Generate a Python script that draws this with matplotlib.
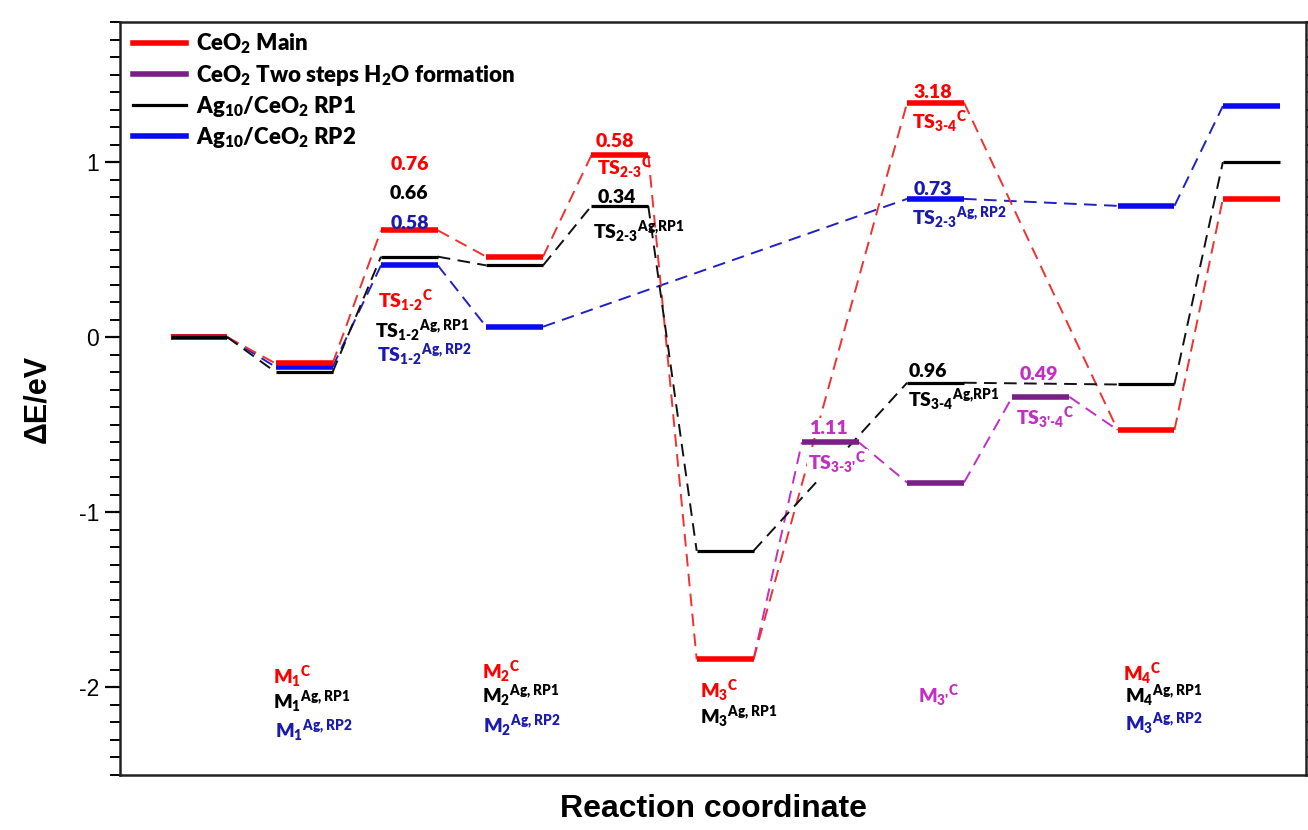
import matplotlib
matplotlib.use("Agg")
import matplotlib.pyplot as plt
from matplotlib.lines import Line2D
from matplotlib.ticker import MultipleLocator

FONT = "Lato"
plt.rcParams["axes.unicode_minus"] = False
plt.rcParams["mathtext.fontset"] = "custom"
plt.rcParams["mathtext.rm"] = FONT + ":heavy"
plt.rcParams["mathtext.it"] = FONT + ":heavy"
plt.rcParams["mathtext.bf"] = FONT + ":heavy"

# energy levels (eV) at each step of the reaction coordinate
red_steps = [0, 1, 2, 3, 4, 5, 7, 9, 10]
red_E = [0.00, -0.15, 0.61, 0.46, 1.04, -1.84, 1.34, -0.53, 0.79]

black_steps = [0, 1, 2, 3, 4, 5, 7, 9, 10]
black_E = [0.00, -0.20, 0.46, 0.41, 0.75, -1.22, -0.26, -0.27, 1.00]

blue_steps = [0, 1, 2, 3, 7, 9, 10]
blue_E = [0.00, -0.17, 0.41, 0.06, 0.79, 0.75, 1.32]

# two-step H2O formation branch: starts at red M3, ends at red M4
purple_steps = [5, 6, 7, 8, 9]
purple_E = [-1.84, -0.60, -0.83, -0.34, -0.53]
purple_bars = [6, 7, 8]

legend_labels = ["CeO$_2$ Main",
                 "CeO$_2$ Two steps H$_2$O formation",
                 "Ag$_{10}$/CeO$_2$ RP1",
                 "Ag$_{10}$/CeO$_2$ RP2"]

RED = "#ff0000"
RED_D = "#f23030"
BLACK = "#000000"
BLUE = "#0a0aee"
BLUE_T = "#1a1ab0"
PURPLE = "#7a1f86"
MAGENTA = "#c22fc2"

HW = 0.27  # half width of a level bar


def draw_path(ax, steps, energies, bar_color, dash_color, bar_lw, bars=None):
    for i in range(len(steps) - 1):
        ax.plot([steps[i] + HW, steps[i + 1] - HW], [energies[i], energies[i + 1]],
                color=dash_color, lw=1.4, dashes=(6.5, 3.8), zorder=2)
    for s, e in zip(steps, energies):
        if bars is None or s in bars:
            ax.plot([s - HW, s + HW], [e, e], color=bar_color, lw=bar_lw,
                    solid_capstyle="butt", zorder=3)


def label(base, sub, sup):
    return base + r"$_{\text{%s}}{}^{\text{%s}}$" % (sub, sup)


fig = plt.figure(figsize=(13.08, 8.30), dpi=100)
ax = fig.add_axes([120 / 1308, 55 / 830, 1186 / 1308, 753 / 830])

draw_path(ax, purple_steps, purple_E, PURPLE, MAGENTA, 4.0, bars=purple_bars)
draw_path(ax, blue_steps, blue_E, BLUE, "#2020c8", 4.0)
draw_path(ax, red_steps, red_E, RED, RED_D, 4.0)
draw_path(ax, black_steps, black_E, BLACK, "#111111", 2.3)

ax.set_xlim(-0.75, 10.52)
ax.set_ylim(-2.5, 1.8)

ax.set_xticks([])
ax.yaxis.set_major_locator(MultipleLocator(1))
ax.yaxis.set_minor_locator(MultipleLocator(0.1))
ax.tick_params(axis="y", which="major", direction="out", length=11, width=1.6,
               right=True, labelsize=16.5, pad=4)
ax.tick_params(axis="y", which="minor", direction="out", length=7, width=1.4,
               right=True)
for lab in ax.get_yticklabels():
    lab.set_family("Liberation Sans")
for sp in ax.spines.values():
    sp.set_linewidth(1.8)
    sp.set_color("#222222")

ax.set_ylabel("ΔE/eV", fontsize=22, fontweight="bold", family="Liberation Sans",
              labelpad=19)
ax.set_xlabel("Reaction coordinate", fontsize=23, fontweight="bold",
              family="Liberation Sans", labelpad=14)

FS = 14
lab_kw = dict(fontsize=FS, fontweight=800, family=FONT, va="baseline")
white = dict(facecolor="white", edgecolor="none", pad=1.0)

# barrier values (centred)
values = [
    (2.00, 0.954, "0.76", RED), (2.00, 0.79, "0.66", BLACK), (2.00, 0.617, "0.58", BLUE_T),
    (3.95, 1.086, "0.58", RED), (3.97, 0.766, "0.34", BLACK),
    (6.97, 1.366, "3.18", RED), (6.97, 0.81, "0.73", BLUE_T), (6.93, -0.23, "0.96", BLACK),
    (5.98, -0.55, "1.11", MAGENTA), (7.98, -0.246, "0.49", MAGENTA),
]
for x, y, t, c in values:
    kw = dict(bbox=white, zorder=4) if t == "1.11" else {}
    ax.text(x, y, t, color=c, ha="center", **lab_kw, **kw)

# state names (left aligned)
names = [
    (1.70, 0.17, label("TS", "1-2", "C"), RED),
    (1.67, -0.006, label("TS", "1-2", "Ag, RP1"), BLACK),
    (1.69, -0.14, label("TS", "1-2", "Ag, RP2"), BLUE_T),
    (3.78, 0.926, label("TS", "2-3", "C"), RED),
    (3.74, 0.56, label("TS", "2-3", "Ag,RP1"), BLACK),
    (6.78, 1.19, label("TS", "3-4", "C"), RED),
    (6.78, 0.64, label("TS", "2-3", "Ag, RP2"), BLUE_T),
    (6.74, -0.40, label("TS", "3-4", "Ag,RP1"), BLACK),
    (5.79, -0.76, label("TS", "3-3'", "C"), MAGENTA),
    (7.76, -0.50, label("TS", "3'-4", "C"), MAGENTA),
    (0.70, -1.977, label("M", "1", "C"), RED),
    (0.70, -2.12, label("M", "1", "Ag, RP1"), BLACK),
    (0.72, -2.286, label("M", "1", "Ag, RP2"), BLUE_T),
    (2.69, -1.95, label("M", "2", "C"), RED),
    (2.69, -2.09, label("M", "2", "Ag, RP1"), BLACK),
    (2.70, -2.26, label("M", "2", "Ag, RP2"), BLUE_T),
    (4.76, -2.06, label("M", "3", "C"), RED),
    (4.76, -2.206, label("M", "3", "Ag, RP1"), BLACK),
    (6.83, -2.086, label("M", "3'", "C"), MAGENTA),
    (8.78, -1.96, label("M", "4", "C"), RED),
    (8.80, -2.09, label("M", "4", "Ag, RP1"), BLACK),
    (8.80, -2.246, label("M", "3", "Ag, RP2"), BLUE_T),
]
for x, y, t, c in names:
    kw = dict(bbox=white, zorder=4) if "3-3'" in t else {}
    ax.text(x, y, t, color=c, ha="left", **lab_kw, **kw)

handles = [Line2D([], [], color=RED, lw=4),
           Line2D([], [], color=PURPLE, lw=4),
           Line2D([], [], color=BLACK, lw=2.3),
           Line2D([], [], color=BLUE, lw=4)]
ax.legend(handles, legend_labels, loc="upper left", bbox_to_anchor=(0.011, 0.987),
          frameon=False, borderaxespad=0, borderpad=0, handlelength=2.4,
          handletextpad=0.45, labelspacing=0.28,
          prop={"family": FONT, "weight": 800, "size": 16})

fig.savefig("out.png", dpi=100)
